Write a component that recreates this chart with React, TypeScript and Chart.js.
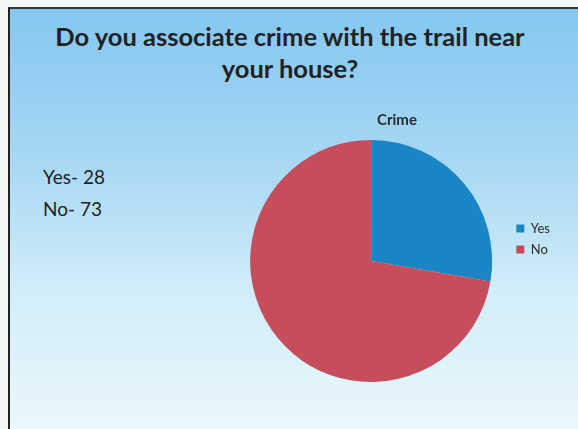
import React, { useEffect, useRef } from "react";
import { Chart, registerables } from "chart.js";

Chart.register(...registerables);

const slideTitle = ["Do you associate crime with the trail near", "your house?"];
const summaryLines = ["Yes- 28", "No- 73"];
const chartTitle = "Crime";
const categories = ["Yes", "No"];
const values = [28, 73];
const colors = ["#1b86c6", "#c64d5c"];

export default function App() {
  const canvasRef = useRef<HTMLCanvasElement | null>(null);

  useEffect(() => {
    if (!canvasRef.current) return;
    const chart = new Chart(canvasRef.current, {
      type: "pie",
      data: {
        labels: categories,
        datasets: [
          {
            data: values,
            backgroundColor: colors,
            borderWidth: 0,
          },
        ],
      },
      options: {
        animation: false,
        responsive: false,
        maintainAspectRatio: false,
        layout: { padding: 0 },
        plugins: {
          title: {
            display: true,
            text: chartTitle,
            color: "#2b2b2b",
            font: { family: "Lato", size: 15, weight: "bold" },
            padding: { top: 15, bottom: 11 },
          },
          legend: {
            display: true,
            position: "right",
            labels: {
              boxWidth: 8,
              boxHeight: 8,
              padding: 8,
              color: "#2b2b2b",
              font: { family: "Lato", size: 13 },
            },
          },
          tooltip: { enabled: false },
        },
      },
    });
    return () => chart.destroy();
  }, []);

  return (
    <div
      style={{
        position: "fixed",
        left: 0,
        top: 0,
        width: 578,
        height: 429,
        background: "#f4f7f8",
        overflow: "hidden",
      }}
    >
      <div
        style={{
          position: "absolute",
          left: 8,
          top: 7,
          width: 580,
          height: 440,
          boxSizing: "border-box",
          borderLeft: "2px solid #222",
          borderTop: "2px solid #333",
          background: "linear-gradient(to bottom, #84c7f0 0%, #a8d8f4 35%, #d2eef9 65%, #edf9fc 100%)",
        }}
      />
      <div
        style={{
          position: "absolute",
          left: 10,
          top: 19.5,
          width: 560,
          textAlign: "center",
          fontFamily: "Lato",
          fontWeight: "bold",
          fontSize: 25.5,
          lineHeight: "32px",
          color: "#222",
        }}
      >
        {slideTitle.map((t, i) => (
          <div key={i}>{t}</div>
        ))}
      </div>
      <div
        style={{
          position: "absolute",
          left: 43,
          top: 161,
          fontFamily: "Lato",
          fontSize: 19,
          lineHeight: "32px",
          color: "#222",
        }}
      >
        {summaryLines.map((t, i) => (
          <div key={i}>{t}</div>
        ))}
      </div>
      <canvas
        ref={canvasRef}
        width={326}
        height={286}
        style={{ position: "absolute", left: 234, top: 96, width: 326, height: 286 }}
      />
    </div>
  );
}
